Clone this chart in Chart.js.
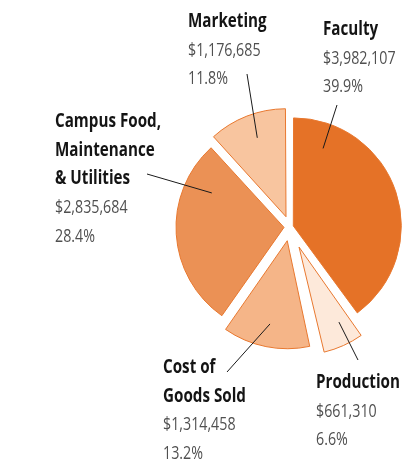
<!DOCTYPE html>
<html lang="en">

<head>
    <meta charset="UTF-8">
    <title>Budget</title>
    <script src="https://cdn.jsdelivr.net/npm/chart.js"></script>
    <style>
        body { margin: 0; background: #ffffff; }
        .graph { width: 419px; height: 466px; }
    </style>
</head>

<body>
    <div class="graph">
        <canvas id="myChart"></canvas>
    </div>

<script>
    // data (clockwise from 12 o'clock)
    const categorias = [["Faculty"], ["Production"], ["Cost of", "Goods Sold"], ["Campus Food,", "Maintenance", "& Utilities"], ["Marketing"]];
    const valores = [3982107, 661310, 1314458, 2835684, 1176685];

    const cores = ["#E57227", "#FDE9DA", "#F5B588", "#EB9155", "#F8C59F"];
    const explode = [14, 88, 56, 24, 44]; // chart.js moves a slice offset/4 px
    const RAIO = 108;

    // where each label sits and where its leader line goes
    const rotulos = [
        { x: 323, y: 35, ang: 21, r: 83, fim: [337, 105] },
        { x: 316, y: 388, ang: 152, r: 85, fim: [358, 360] },
        { x: 163, y: 373, ang: 191.7, r: 85, fim: [227, 372] },
        { x: 55, y: 127, ang: 295.5, r: 80, fim: [147, 174] },
        { x: 188, y: 27, ang: 340, r: 84, fim: [247, 74] }
    ];

    const total = valores.reduce(function (a, b) { return a + b; }, 0);

    // keep the pulled-out slices at the same radius as the others
    const ajusteRaio = {
        id: "ajusteRaio",
        beforeDatasetsDraw(chart) {
            chart.getDatasetMeta(0).data.forEach(function (arc, i) {
                const fix = 1 - Math.sin(Math.min(Math.PI, arc.circumference));
                arc.outerRadius = RAIO - (explode[i] / 4) * fix;
            });
        }
    };

    // condensed look: squeeze the text horizontally
    function escreve(ctx, txt, x, y, k) {
        ctx.save();
        ctx.translate(x, y);
        ctx.scale(k, 1);
        ctx.fillText(txt, 0, 0);
        ctx.restore();
    }

    const textos = {
        id: "textos",
        afterDraw(chart) {
            const ctx = chart.ctx;
            const meta = chart.getDatasetMeta(0);
            ctx.save();
            rotulos.forEach(function (r, i) {
                const arc = meta.data[i];
                const meio = (arc.startAngle + arc.endAngle) / 2;
                const t = explode[i] / 4;
                const a = (r.ang - 90) * Math.PI / 180;
                const x0 = arc.x + Math.cos(meio) * t + Math.cos(a) * r.r;
                const y0 = arc.y + Math.sin(meio) * t + Math.sin(a) * r.r;
                ctx.beginPath();
                ctx.moveTo(x0, y0);
                ctx.lineTo(r.fim[0], r.fim[1]);
                ctx.strokeStyle = "#1a1a1a";
                ctx.lineWidth = 1;
                ctx.stroke();

                let y = r.y;
                ctx.textAlign = "left";
                ctx.textBaseline = "alphabetic";
                ctx.fillStyle = "#141414";
                ctx.font = "bold 20px 'Open Sans', sans-serif";
                categorias[i].forEach(function (linha) {
                    escreve(ctx, linha, r.x, y, 0.76);
                    y += 28.7;
                });
                ctx.fillStyle = "#505050";
                ctx.font = "19px 'Open Sans', sans-serif";
                escreve(ctx, "$" + valores[i].toLocaleString("en-US"), r.x, y, 0.75);
                y += 28.7;
                escreve(ctx, (valores[i] / total * 100).toFixed(1) + "%", r.x, y, 0.75);
            });
            ctx.restore();
        }
    };

    const config = {
        type: "pie",
        data: {
            labels: categorias,
            datasets: [
                {
                    data: valores,
                    backgroundColor: cores,
                    borderColor: "#E8782F",
                    borderWidth: 1,
                    offset: explode
                }
            ]
        },
        options: {
            responsive: true,
            maintainAspectRatio: false,
            animation: false,
            events: [],
            radius: RAIO,
            layout: { padding: { left: 161, right: 0, top: 0, bottom: 12 } },
            plugins: {
                legend: { display: false },
                tooltip: { enabled: false }
            }
        },
        plugins: [ajusteRaio, textos]
    };

    var myChart = new Chart(document.getElementById("myChart"), config);
</script>
</body>

</html>
